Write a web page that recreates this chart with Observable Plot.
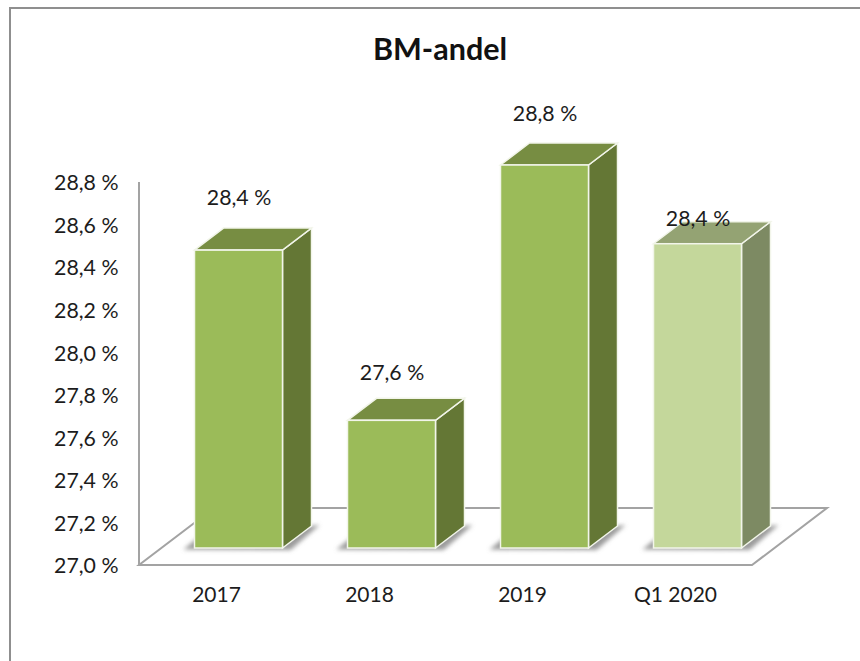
<!DOCTYPE html>
<html>
<head>
<meta charset="utf-8">
<script src="https://cdn.jsdelivr.net/npm/d3@7"></script>
<script src="https://cdn.jsdelivr.net/npm/@observablehq/plot@0.6"></script>
<style>
  html, body { margin: 0; padding: 0; background: #fff; overflow: hidden; }
  #chart { position: relative; width: 860px; height: 661px; }
  #chart svg { display: block; font-family: Lato, sans-serif; }
  #frame { position: absolute; left: 9px; top: 7px; right: 0; bottom: 0;
           border-left: 2px solid #8f8f8f; border-top: 2px solid #8f8f8f; pointer-events: none; }
  #title { position: absolute; left: 0; width: 880px; top: 31px; margin: 0; text-align: center;
           font: 700 30.5px/34px Lato, sans-serif; color: #111; }
</style>
</head>
<body>
<div id="chart">
  <div id="frame"></div>
  <h1 id="title"></h1>
</div>
<script>
const titleText = "BM-andel";
const categories = ["2017", "2018", "2019", "Q1 2020"];
const values = [28.4, 27.6, 28.8, 28.43];
const isForecast = [false, false, false, true];
const yTicks = [27.0, 27.2, 27.4, 27.6, 27.8, 28.0, 28.2, 28.4, 28.6, 28.8];
const yBase = 27.0;

const rows = categories.map((category, i) => ({category, value: values[i], light: isForecast[i]}));
const comma = (v, digits = 1) => v.toFixed(digits).replace(".", ",") + " %";

// Pseudo-3D geometry in pixels
const FLOOR = {dx: 75, dy: -57};
const BAR_OFF = {dx: 22.5, dy: -17};
const BAR_DEPTH = {dx: 29, dy: -22};
const COLORS = {
  dark:  {front: "#9bbb59", top: "#778d42", side: "#647735"},
  light: {front: "#c4d79b", top: "#94a373", side: "#7d8a63"}
};
const EDGE = "#f2f5ea";
const AXIS = "#a3a3a3";
const INK = "#1c1c1c";
const pts = a => a.map(p => p.join(",")).join(" ");

function svgGroup() { return d3.create("svg:g"); }

function floorMark(index, {y}, values, {width, marginLeft, marginRight}) {
  const g = svgGroup();
  const x0 = marginLeft, x1 = width - marginRight, b = y(yBase);
  g.append("polygon")
    .attr("points", pts([[x0, b], [x1, b], [x1 + FLOOR.dx, b + FLOOR.dy], [x0 + FLOOR.dx, b + FLOOR.dy]]))
    .attr("fill", "#fff").attr("stroke", AXIS).attr("stroke-width", 2);
  g.append("line")
    .attr("x1", x0).attr("x2", x0).attr("y1", y(yTicks[yTicks.length - 1])).attr("y2", b)
    .attr("stroke", AXIS).attr("stroke-width", 2);
  return g.node();
}

function shadowMark(index, {x, y}) {
  const g = svgGroup();
  const defs = g.append("defs");
  defs.append("filter").attr("id", "soft")
    .attr("x", "-20%").attr("y", "-40%").attr("width", "140%").attr("height", "180%")
    .append("feGaussianBlur").attr("stdDeviation", 2.2);
  const b = y(yBase) + BAR_OFF.dy;
  for (const r of rows) {
    const l = x(r.category) + BAR_OFF.dx, R = l + x.bandwidth();
    g.append("polygon")
      .attr("points", pts([[l - 11, b + 1.5], [l + 3, b - 10], [R + 37, b - 23], [R + 8, b + 2]]))
      .attr("fill", "#8a8a8a").attr("fill-opacity", 0.85).attr("filter", "url(#soft)");
  }
  return g.node();
}

function depthFaces(index, {x, y}) {
  const g = svgGroup();
  for (const r of rows) {
    const c = r.light ? COLORS.light : COLORS.dark;
    const l = x(r.category) + BAR_OFF.dx, R = l + x.bandwidth();
    const t = y(r.value) + BAR_OFF.dy, b = y(yBase) + BAR_OFF.dy;
    const d = BAR_DEPTH;
    g.append("polygon")
      .attr("points", pts([[R, t], [R + d.dx, t + d.dy], [R + d.dx, b + d.dy], [R, b]]))
      .attr("fill", c.side).attr("stroke", EDGE).attr("stroke-width", 1.5);
    g.append("polygon")
      .attr("points", pts([[l, t], [l + d.dx, t + d.dy], [R + d.dx, t + d.dy], [R, t]]))
      .attr("fill", c.top).attr("stroke", EDGE).attr("stroke-width", 1.5);
  }
  return g.node();
}

const labelStyle = {
  x: "category", y: "value", text: d => comma(d.value),
  dx: BAR_OFF.dx, fontSize: 21.3, fill: INK, textAnchor: "middle"
};

const plot = Plot.plot({
  width: 860, height: 661,
  marginLeft: 139, marginRight: 108, marginTop: 182, marginBottom: 96,
  style: {background: "transparent", fontFamily: "Lato, sans-serif"},
  x: {domain: categories, type: "band", paddingInner: 0.426, paddingOuter: 0.213, label: null},
  y: {domain: [yBase, yTicks[yTicks.length - 1]], label: null},
  marks: [
    floorMark,
    shadowMark,
    depthFaces,
    Plot.barY(rows, {
      x: "category", y1: () => yBase, y2: "value",
      dx: BAR_OFF.dx, dy: BAR_OFF.dy,
      fill: d => (d.light ? COLORS.light : COLORS.dark).front,
      stroke: EDGE, strokeWidth: 1.5
    }),
    Plot.axisY({ticks: yTicks, tickSize: 0, tickPadding: 21, dy: 1, tickFormat: d => comma(d), fontSize: 21.3, color: INK, label: null}),
    Plot.axisX({tickSize: 0, tickPadding: 22, fontSize: 21, color: INK, label: null}),
    Plot.text(rows.filter(d => d.category === "2017"), {...labelStyle, dy: -69}),
    Plot.text(rows.filter(d => d.category === "2018"), {...labelStyle, dy: -65}),
    Plot.text(rows.filter(d => d.category === "2019"), {...labelStyle, dy: -68}),
    Plot.text(rows.filter(d => d.category === "Q1 2020"), {...labelStyle, dy: -42})
  ]
});
const chart = document.getElementById("chart");
chart.insertBefore(plot, chart.firstChild);
document.getElementById("title").textContent = titleText;
</script>
</body>
</html>
